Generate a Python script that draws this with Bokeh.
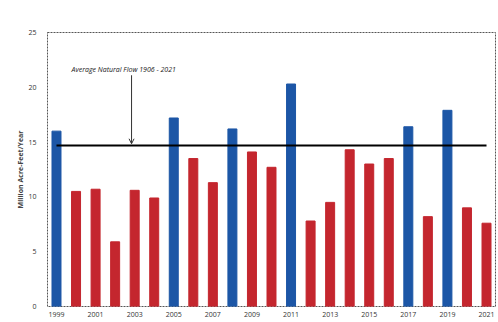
from bokeh.plotting import figure
from bokeh.models import Range1d, Label, Arrow, OpenHead, ColumnDataSource, FixedTicker
from bokeh.embed import file_html
from bokeh.resources import INLINE

years = list(range(1999, 2022))
flows = [16.0, 10.5, 10.7, 5.9, 10.6, 9.9, 17.2, 13.5, 11.3, 16.2, 14.1, 12.7,
         20.3, 7.8, 9.5, 14.3, 13.0, 13.5, 16.4, 8.2, 17.9, 9.0, 7.6]
avg_flow = 14.7
avg_label = "Average Natural Flow 1906 - 2021"
y_ticks = [0, 5, 10, 15, 20, 25]
x_ticks = list(range(1999, 2022, 2))

BLUE = "#1c56a6"
RED = "#c4262e"
colors = [BLUE if v > avg_flow else RED for v in flows]

src = ColumnDataSource(dict(x=years, top=flows, color=colors))

p = figure(width=498, height=322, output_backend="svg", toolbar_location=None,
           x_range=Range1d(1998.54, 2021.46), y_range=Range1d(0, 25),
           min_border_left=47, min_border_right=3, min_border_top=32, min_border_bottom=16)
p.background_fill_color = "white"
p.border_fill_color = "white"
p.outline_line_color = "#555555"
p.outline_line_width = 1
p.outline_line_dash = "2 1"
p.grid.visible = False

p.vbar(x="x", top="top", width=0.46, color="color", source=src)

p.line(x=[years[0], years[-1]], y=[avg_flow, avg_flow], line_color="black", line_width=2)

p.add_layout(Arrow(end=OpenHead(size=5, line_color="#333333", line_width=1),
                   x_start=2002.84, y_start=21.1, x_end=2002.84, y_end=avg_flow + 0.15,
                   line_color="#333333", line_width=1))
p.add_layout(Label(x=1999.77, y=21.6, text=avg_label, text_font_size="7px",
                   text_font="Open Sans", text_font_style="italic", text_baseline="middle",
                   text_color="#222222"))

for ax in (p.xaxis[0], p.yaxis[0]):
    ax.axis_line_color = None
    ax.major_tick_line_color = None
    ax.minor_tick_line_color = None
    ax.major_label_text_font = "Open Sans"
    ax.major_label_text_font_size = "7px"
    ax.major_label_text_color = "#333333"
    ax.major_tick_out = 0
    ax.major_tick_in = 0

p.xaxis.ticker = FixedTicker(ticks=x_ticks)
p.yaxis.ticker = FixedTicker(ticks=y_ticks)
p.xaxis.major_label_standoff = 5
p.yaxis.major_label_standoff = 11
p.yaxis.axis_label = "Million Acre-Feet/Year"
p.yaxis.axis_label_text_font = "Open Sans"
p.yaxis.axis_label_text_font_size = "7px"
p.yaxis.axis_label_text_font_style = "bold"
p.yaxis.axis_label_standoff = 0

open("out.html", "w").write(file_html(p, INLINE))
